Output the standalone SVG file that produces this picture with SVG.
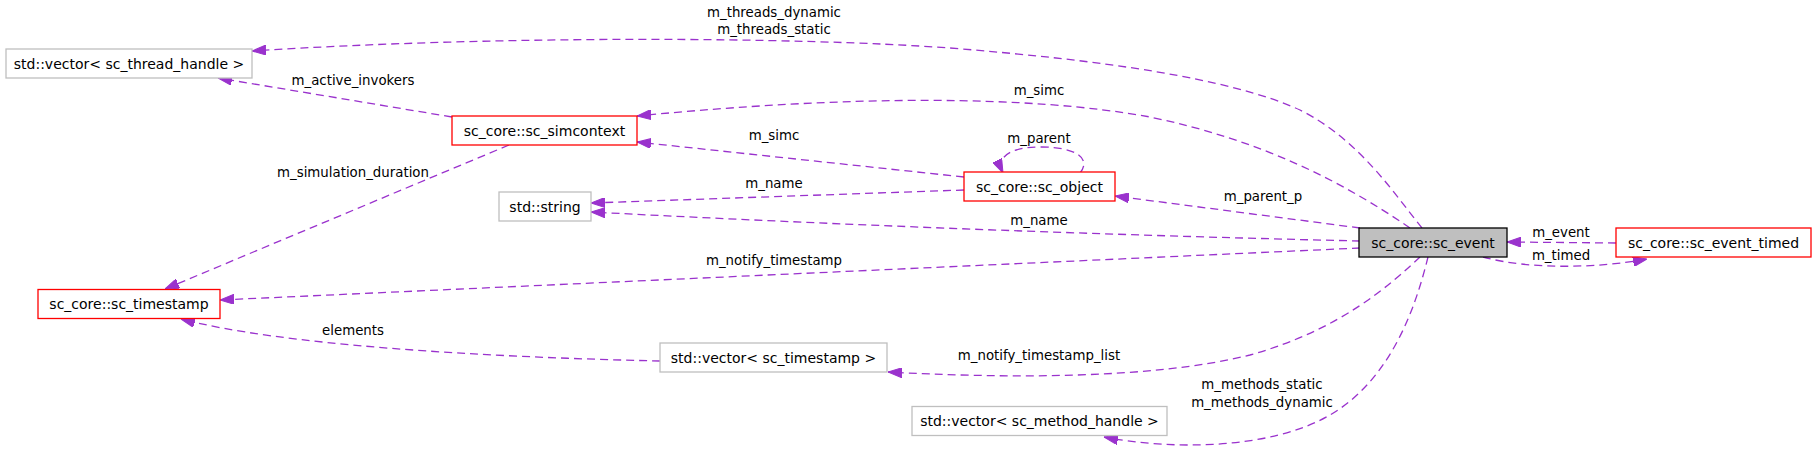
<svg xmlns="http://www.w3.org/2000/svg" width="1816" height="450" viewBox="0 0 1816 450">
<style>
  text { font-family: "DejaVu Sans", sans-serif; font-size: 14px; fill: #000; text-anchor: middle; }
  text.l { font-size: 13.33px; }
  .nr { fill: #fff; stroke: #ff0000; stroke-width: 1.3; }
  .ng { fill: #fff; stroke: #bfbfbf; stroke-width: 1.3; }
  .nb { fill: #bfbfbf; stroke: #000; stroke-width: 1.3; }
  .e { fill: none; stroke: #9a32cd; stroke-width: 1.3; stroke-dasharray: 8,5; marker-end: url(#ah); }
</style>
<defs>
  <marker id="ah" viewBox="0 0 14 10" refX="14" refY="5" markerWidth="14" markerHeight="10" markerUnits="userSpaceOnUse" orient="auto">
    <path d="M0,0 L14,5 L0,10 Z" fill="#9a32cd" stroke="#9a32cd" stroke-width="1"/>
  </marker>
</defs>
<rect x="0" y="0" width="1816" height="450" fill="#fff"/>

<g id="connectors">
  <path class="e" d="M1422,228 C1395,195 1360,140 1300,110 C1230,78 1100,60 950,48 C800,37 500,35 252,51"/>
  <path class="e" d="M1410,228 C1340,180 1260,140 1150,117 C1030,95 850,95 637,116"/>
  <path class="e" d="M452,117 L218,78"/>
  <path class="e" d="M964,177 L637,142"/>
  <path class="e" d="M1080,173 C1092,158 1075,147 1041,147 C1008,147 996,158 1003,173"/>
  <path class="e" d="M964,190 L591,203"/>
  <path class="e" d="M1360,241 Q975,232 591,212"/>
  <path class="e" d="M1360,228 L1115,196"/>
  <path class="e" d="M1360,248 L220,300"/>
  <path class="e" d="M509,145 L165,289"/>
  <path class="e" d="M660,361 C480,357 280,345 181,319"/>
  <path class="e" d="M1420,257 C1390,285 1340,330 1250,355 C1150,380 1000,378 888,372"/>
  <path class="e" d="M1428,257 C1415,310 1390,380 1330,415 C1270,450 1170,450 1104,437"/>
  <path class="e" d="M1616,243 L1507,242"/>
  <path class="e" d="M1483,257 C1530,270 1600,268 1647,259"/>
  <text class="l" x="774" y="17">m_threads_dynamic</text>
  <text class="l" x="774" y="34">m_threads_static</text>
  <text class="l" x="353" y="85">m_active_invokers</text>
  <text class="l" x="1039" y="95">m_simc</text>
  <text class="l" x="774" y="140">m_simc</text>
  <text class="l" x="1039" y="143">m_parent</text>
  <text class="l" x="353" y="177">m_simulation_duration</text>
  <text class="l" x="774" y="188">m_name</text>
  <text class="l" x="1263" y="201">m_parent_p</text>
  <text class="l" x="1039" y="225">m_name</text>
  <text class="l" x="774" y="265">m_notify_timestamp</text>
  <text class="l" x="1561" y="237">m_event</text>
  <text class="l" x="1561" y="260">m_timed</text>
  <text class="l" x="353" y="335">elements</text>
  <text class="l" x="1039" y="360">m_notify_timestamp_list</text>
  <text class="l" x="1262" y="389">m_methods_static</text>
  <text class="l" x="1262" y="407">m_methods_dynamic</text>
</g>

<g id="node_vec_thread"><rect class="ng" x="6" y="49" width="246" height="29"/><text x="129" y="68.5">std::vector&lt; sc_thread_handle &gt;</text></g>
<g id="node_simcontext"><rect class="nr" x="452" y="116" width="185" height="29"/><text x="544.5" y="135.5">sc_core::sc_simcontext</text></g>
<g id="node_string"><rect class="ng" x="499" y="192" width="92" height="29"/><text x="545" y="211.5">std::string</text></g>
<g id="node_timestamp"><rect class="nr" x="38" y="289.5" width="182" height="29"/><text x="129" y="309">sc_core::sc_timestamp</text></g>
<g id="node_object"><rect class="nr" x="964" y="172" width="151" height="29"/><text x="1039.5" y="191.5">sc_core::sc_object</text></g>
<g id="node_event"><rect class="nb" x="1359" y="228" width="148" height="29"/><text x="1433" y="247.5">sc_core::sc_event</text></g>
<g id="node_event_timed"><rect class="nr" x="1616" y="228" width="195" height="29"/><text x="1713.5" y="247.5">sc_core::sc_event_timed</text></g>
<g id="node_vec_ts"><rect class="ng" x="660" y="343" width="227" height="29"/><text x="773.5" y="362.5">std::vector&lt; sc_timestamp &gt;</text></g>
<g id="node_vec_mh"><rect class="ng" x="912" y="406.5" width="255" height="29"/><text x="1039.5" y="426">std::vector&lt; sc_method_handle &gt;</text></g>
</svg>
